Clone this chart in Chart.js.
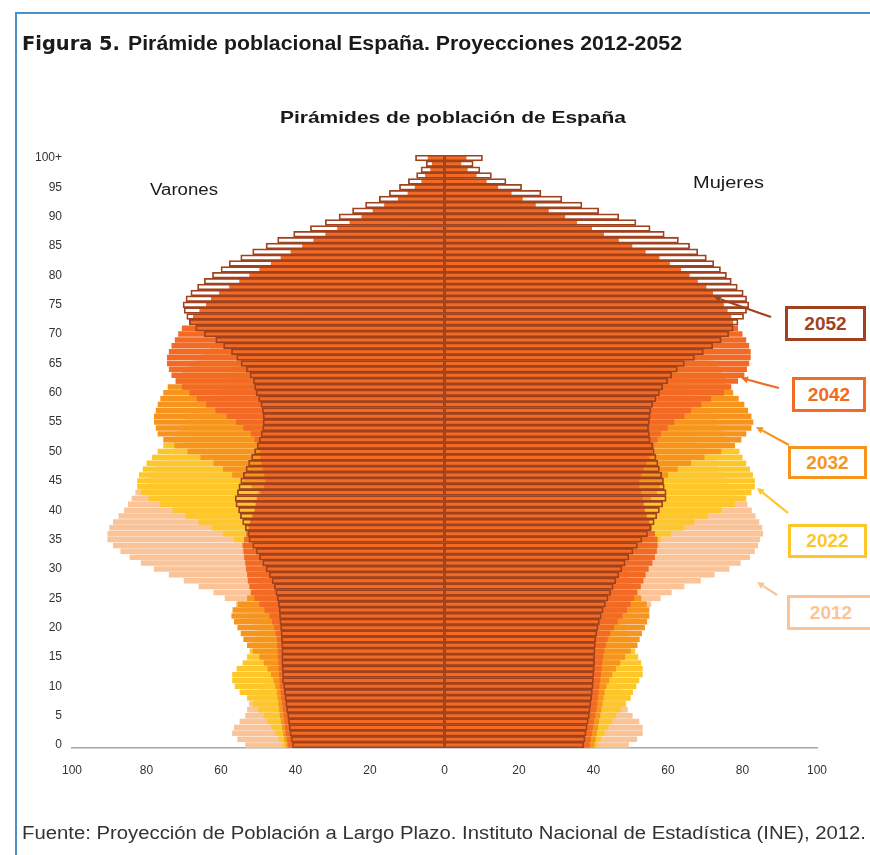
<!DOCTYPE html>
<html><head><meta charset="utf-8">
<script src="https://cdn.jsdelivr.net/npm/chart.js@4.4.1/dist/chart.umd.min.js"></script>
<style>
html,body{margin:0;padding:0;background:#fff;}
body{width:870px;height:855px;position:relative;overflow:hidden;font-family:"Liberation Sans",Arial,sans-serif;color:#1a1a1a;}
#frameTop{position:absolute;left:15px;top:12px;width:860px;height:2px;background:#4a90c9;}
#frameLeft{position:absolute;left:15px;top:12px;width:2px;height:850px;background:#4a90c9;}
#c{position:absolute;left:0;top:0;}
.t{position:absolute;white-space:nowrap;line-height:1;transform-origin:0 0;}
.box{position:absolute;box-sizing:border-box;border:3px solid;background:#fff;font-weight:bold;font-size:19px;display:flex;align-items:center;justify-content:center;}
svg{position:absolute;left:0;top:0;}
</style></head>
<body>
<div id="frameTop"></div><div id="frameLeft"></div>
<canvas id="c" width="870" height="855"></canvas>
<div class="t" id="hFig" style="font-family:'DejaVu Sans';font-weight:bold;font-size:19px;">Figura 5.</div>
<div class="t" id="hTxt" style="font-weight:bold;font-size:20px;">Pirámide poblacional España. Proyecciones 2012-2052</div>
<div class="t" id="title" style="font-weight:bold;font-size:17px;">Pirámides de población de España</div>
<div class="t" id="varones" style="font-size:16px;">Varones</div>
<div class="t" id="mujeres" style="font-size:16px;">Mujeres</div>
<div class="t" id="foot" style="font-size:18px;color:#333;">Fuente: Proyección de Población a Largo Plazo. Instituto Nacional de Estadística (INE), 2012.</div>
<svg width="870" height="855" id="arrows"></svg>
<div class="box" style="left:785px;top:306px;width:81px;height:35px;border-color:#A0421E;color:#A0421E;">2052</div>
<div class="box" style="left:792px;top:377px;width:74px;height:35px;border-color:#F26A24;color:#F26A24;">2042</div>
<div class="box" style="left:788px;top:446px;width:79px;height:33px;border-color:#F7941E;color:#F7941E;">2032</div>
<div class="box" style="left:788px;top:524px;width:79px;height:34px;border-color:#FDC72A;color:#FDC72A;">2022</div>
<div class="box" style="left:787px;top:595px;width:88px;height:35px;border-color:#FAC498;color:#FAC498;">2012</div>
<script>
// ---- DATA (ages 0..100+) ----
const ageLabels = [];
for (let i = 0; i <= 100; i++) ageLabels.push(i === 100 ? '100+' : String(i));

const xTicks = [-100, -80, -60, -40, -20, 0, 20, 40, 60, 80, 100];
const years = ['2052', '2042', '2032', '2022', '2012'];

const men2012 = [53.5,55.6,57,56.5,55,53.5,53,52.5,51,50,
49,48.5,48,47.5,47,46.5,46.5,47,48,49,
50,51.5,53,54.5,56,59,62,66,70,74,
78,81.5,84.5,87,89,90.5,90.5,90,89,87.5,
86,85,84,83,81.5,80,79,77.5,76,74.5,
73,71.5,70,68.5,67,65.5,64,62.5,61,59.5,
58,57,56,55,54,52,50,47,45,42,
40,38,37.5,36.5,36,35,34,32.5,31,29,
27,25,23,20.5,18,15.5,13.5,11.5,9.5,8,
6.5,5,4,3,2.3,1.8,1.3,1,0.7,0.5,0.8];

const men2022 = [43.5,44.5,45.5,46.5,47.5,48.5,50,51.5,53,55,
56.3,57,57,55.8,54.2,53,52.3,51.8,51.2,50.6,
50,49.5,49,48.5,48,47.7,47.5,47.5,47.7,48,
48.5,49.2,50.2,52,54,56.5,59.5,62.5,66,69.5,
73,76.5,79.5,81.5,82.5,82.5,82,81,80,78.5,
77,75.5,74,72.5,71,69.5,68,66.5,65,63.5,
62,60.5,59,57.5,56,54.5,53,51.5,50,48.5,
46.5,45,43.5,42,40.5,39,37,34.5,32,29.5,
27.5,26,24.5,23,21.5,20,18,16,14,12,
10,8,6.5,5,4,3,2.2,1.6,1.1,0.8,1.5];

const men2032 = [42.6,43,43.3,43.6,43.9,44.2,44.4,44.6,44.8,45,
45.4,45.9,46.6,47.5,48.5,49.7,51.5,53,54,54.7,
55.6,56.5,57.2,56.9,55.5,53,51.5,50.5,49.8,49.2,
48.8,48.5,48.3,48.2,48.2,48.2,48.2,48.2,48.2,48.2,
48.3,48.4,48.8,50,51.8,54,57,59.5,62,65.5,
69,72.5,75.5,77,77.5,78,78,77.5,77,76.3,
75.5,74.3,72,70.5,69,67.5,66,64.5,63,61.5,
60,58,56,54,52,49.5,47,44.5,41.5,38.5,
36,33.5,31,29,27,24.5,22,19.5,16.5,14,
11.5,9.2,7.3,5.6,4.2,3.1,2.2,1.5,1,0.7,1.5];

const men2042 = [42,42.3,42.6,42.8,43,43.2,43.4,43.6,43.8,44,
44.2,44.3,44.4,44.5,44.6,44.7,44.8,44.9,45,45.3,
45.7,46.3,47,48.3,49.7,51,52,52.4,52.8,53,
53.3,53.5,53.8,54,54.2,53.8,53.2,52.6,52.2,51.6,
51,50.7,50.4,49.4,48.4,48.1,48.4,48.8,49.2,49.4,
49.6,50,51,52,54,56,58.5,61.5,64,66.5,
68.5,70.5,72.2,73.3,74,74.5,74.5,74,73.3,72.4,
71.5,70.5,68.5,67.5,65.8,64,62.7,60.5,57.8,55.1,
52.4,49.7,46.6,44,41.3,38.2,35.2,32,28.8,25.5,
22.3,19.3,16.2,12.5,9.9,8,6.2,5.2,3.8,3.4,4.5];

const men2052 = [40.8,41.2,41.5,41.7,41.9,42.1,42.4,42.6,42.8,43,
43.2,43.5,43.5,43.6,43.7,43.7,43.7,43.7,43.8,43.9,
44,44.2,44.3,44.4,44.6,44.9,45.3,45.7,46.3,47,
47.9,48.8,49.7,50.6,51.5,52.5,52.8,53.5,54.2,54.8,
55.3,56,56.2,55.6,55.2,54.7,54,53.3,52.6,51.8,
51,50.3,49.7,49.2,48.8,48.7,48.7,48.9,49.3,49.9,
50.6,51,51.3,52.2,53.2,54.6,55.8,57.2,59.3,61.4,
64.5,66.8,68.5,69.2,69.9,70.2,69.4,68.1,66.3,64.5,
62.3,60,57.8,54.7,51.5,47.9,44.8,40.5,36,32,
28.3,24.7,21.2,17.5,14.8,12.1,9.7,7.5,6.3,4.9,7.8];

const women2012 = [49.5,51.7,53.2,53.2,52.3,50.5,49.2,48.8,48.5,47.5,
46.5,46,45.5,45,44.5,44,44,44.3,45,46,
47,48.5,50,52.5,55.5,58,61,64.4,68.8,72.5,
76.5,79.5,82,83.3,84.2,84.7,85.5,85.3,84.5,83.5,
82.5,81.3,80,78.5,77,75.8,74.5,73.5,72.5,71.5,
70.5,69.5,68.5,67.5,66.5,65.5,64.5,63.5,62.5,61.5,
60,59,58,57,56,54.5,53,50.5,48.5,46,
44,42.5,42,41.5,41,40.5,40,39,38,36.5,
35,33,31,29,26.5,24,21.5,19,16.5,14,
12,10,8,6.5,5,4,3,2.2,1.6,1.1,2];

const women2022 = [41,42,43,44,45,46,47.3,48.5,50,50.6,
51.5,52.3,53.2,53.2,52.8,52,51.2,50.5,49.8,49,
48.3,47.6,47,46.5,46.2,46,46,46.2,46.6,47.2,
48,49.2,50.8,52.8,55.5,58.1,60.8,64.4,67.1,70.7,
74.3,78,81,82.4,83.3,83.3,82.8,82,81,80,
79.2,78,76.8,75.6,74.4,73.2,72,70.8,69.6,68.4,
67.2,66,64.8,63.6,62.4,61.2,60,58.8,57.6,56.2,
54.8,53.4,52,50.6,49.2,47.8,46.2,44.3,42.5,40.7,
39,37.5,36,34.5,33,31,29,27,25,22.5,
20,17.5,15,12.5,10,8,6,4.5,3.3,2.4,4];

const women2032 = [40.3,40.6,40.9,41.2,41.5,41.8,42.1,42.4,42.7,43,
43.5,44.2,45,46,47.2,48.5,50,51.8,52.4,53,
53.8,54.4,55,55,54.3,52.8,51.5,50.5,49.8,49.3,
49,48.8,48.8,48.8,48.8,48.8,49,49.3,49.7,50.2,
51,53,55.5,57,57.8,58.5,60,62.6,66.2,69.8,
74.3,78,79.7,81,82.4,82.9,82.4,81.5,80.5,79,
77.5,76.5,75.5,74.5,73.5,72.3,71,69.7,68.3,67,
65.5,64,62.5,61,59.4,57.8,56,54,52,50,
48,46,44,42,40,37.5,35,32.5,29.5,26.5,
23.5,20.5,17.5,14.5,11.5,9,7,5.2,3.8,2.8,5];

const women2042 = [39,39.3,39.6,39.9,40.2,40.5,40.8,41,41.2,41.4,
41.6,41.8,42,42.2,42.4,42.6,42.9,43.3,43.8,44.5,
45.5,46.5,47.8,49,50,50.9,51.8,52.7,53.4,54,
54.8,55.8,56.5,57,57.2,57.2,56.5,55.7,55,54.3,
53.8,53.5,53.2,52.8,52.3,52.3,52.8,53.4,54.2,55,
55.8,56.3,57.2,58.1,59.9,61.7,64.4,66.2,68.9,71.6,
75,77,78.8,80.5,81.2,81.8,82.2,82.2,81.8,81,
80,78.8,77.5,77,76,75,73.9,72.1,70.3,68,
65.8,63.5,60.5,57.7,54,50.4,46.8,42.8,39.6,35.6,
32.4,28,24.5,21,18,14.4,11.3,8.6,6.2,4.5,5.9];

const women2052 = [37.4,37.7,38,38.3,38.6,38.9,39.1,39.3,39.5,39.7,
39.9,40,40.1,40.2,40.3,40.3,40.4,40.5,40.6,40.9,
41.2,41.6,42.1,42.6,43.2,43.9,44.6,45.3,46,46.8,
47.6,48.5,49.5,50.6,51.8,53,54.5,55.4,56.3,57,
57.7,58.6,59.5,59.5,59,58.8,58.3,57.7,57.3,56.8,
56.3,55.9,55.2,55,54.8,55,55.2,55.4,55.9,56.8,
57.7,58.6,59.9,61,62.5,64.4,67.1,69.5,72,74.3,
76.3,77.5,78.8,80.3,81.1,81.7,81.1,80.2,78.6,77,
75.7,74.1,72.3,70.3,68,65.8,62.8,59,55.2,51.4,
46.8,41.4,36.9,31.5,25.9,20.7,16.5,12.6,9.5,7.7,10.2];

const menByYear = {'2012': men2012, '2022': men2022, '2032': men2032, '2042': men2042, '2052': men2052};
const womenByYear = {'2012': women2012, '2022': women2022, '2032': women2032, '2042': women2042, '2052': women2052};
const fillColors = {'2012': '#FAC498', '2022': '#FDC72A', '2032': '#F7941E', '2042': '#F26A24'};
const outlineColor = '#A0421E';

// ---- DATASETS ----
const datasets = [];
years.forEach((y, idx) => {
  const isOutline = y === '2052';
  const common = {
    grouped: false,
    order: idx,
    categoryPercentage: 1,
    barPercentage: isOutline ? 1 : 0.93,
    backgroundColor: isOutline ? 'rgba(0,0,0,0)' : fillColors[y],
    borderColor: isOutline ? outlineColor : 'rgba(0,0,0,0)',
    borderWidth: isOutline ? 1.1 : 0,
    borderSkipped: false
  };
  datasets.push(Object.assign({label: 'Varones ' + y, data: menByYear[y].map(v => -v)}, common));
  datasets.push(Object.assign({label: 'Mujeres ' + y, data: womenByYear[y]}, common));
});

Chart.defaults.font.family = "'Liberation Sans', Arial, sans-serif";
new Chart(document.getElementById('c'), {
  type: 'bar',
  data: {labels: ageLabels, datasets: datasets},
  options: {
    indexAxis: 'y',
    responsive: false,
    animation: false,
    layout: {padding: {left: 0, right: 53, top: 155, bottom: 0}},
    plugins: {legend: {display: false}, tooltip: {enabled: false}, title: {display: false}},
    scales: {
      x: {
        type: 'linear', min: -100, max: 100,
        afterBuildTicks: s => { s.ticks = xTicks.map(v => ({value: v})); },
        afterFit: s => { s.height = 107; },
        grid: {display: false, drawTicks: false},
        border: {display: true, color: '#a6a6a6', width: 1.5},
        ticks: {padding: 15, color: '#333', font: {size: 12}, callback: v => Math.abs(v)}
      },
      y: {
        type: 'category', reverse: true,
        afterFit: s => { s.width = 72; },
        grid: {display: false, drawTicks: false},
        border: {display: false},
        ticks: {autoSkip: false, padding: 10, color: '#333', font: {size: 12},
          callback: function(val, i) { return i % 5 === 0 ? ageLabels[i] : ''; }}
      }
    }
  }
});

// ---- ARROWS ----
const arrows = [
  [771, 317, 714, 297, '#A0421E'],
  [779, 388, 741, 378, '#F26A24'],
  [789, 445, 756, 427, '#F7941E'],
  [788, 513, 757, 488, '#FDC72A'],
  [777, 595, 757, 582, '#FAC498']
];
const svg = document.getElementById('arrows');
let s = '';
arrows.forEach(a => {
  const [x1, y1, x2, y2, c] = a;
  const ang = Math.atan2(y2 - y1, x2 - x1), L = 7, W = 3.5;
  const bx = x2 - L * Math.cos(ang), by = y2 - L * Math.sin(ang);
  const px = -Math.sin(ang) * W, py = Math.cos(ang) * W;
  s += `<line x1="${x1}" y1="${y1}" x2="${bx}" y2="${by}" stroke="${c}" stroke-width="2.2"/>`;
  s += `<polygon points="${x2},${y2} ${bx+px},${by+py} ${bx-px},${by-py}" fill="${c}"/>`;
});
svg.innerHTML = s;

// ---- TEXT FITTING ----
function fit(id, left, width, cy) {
  const el = document.getElementById(id);
  const fs = parseFloat(getComputedStyle(el).fontSize);
  el.style.left = left + 'px';
  el.style.top = (cy - fs * 0.5) + 'px';
  const w = el.getBoundingClientRect().width;
  el.style.transform = 'scaleX(' + (width / w) + ')';
}
fit('hFig', 22, 98, 43);
fit('hTxt', 128, 554, 43);
fit('title', 280, 346, 117);
fit('varones', 150, 68, 190);
fit('mujeres', 693, 71, 183);
fit('foot', 22, 844, 833);
</script>
</body></html>
